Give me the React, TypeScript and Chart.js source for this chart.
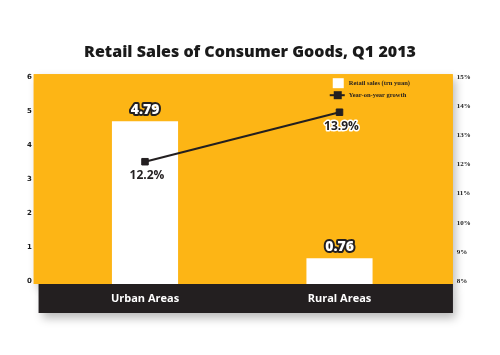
import React, { useEffect, useRef } from "react";
import { Chart, registerables } from "chart.js";

Chart.register(...registerables);

const categories = ["Urban Areas", "Rural Areas"];
const salesValues = [4.79, 0.76];
const growthValues = [12.2, 13.9];
const salesLabels = ["4.79", "0.76"];
const growthLabels = ["12.2%", "13.9%"];
const leftTicks = [0, 1, 2, 3, 4, 5, 6];
const rightTicks = [8, 9, 10, 11, 12, 13, 14, 15];
const title = "Retail Sales of Consumer Goods, Q1 2013";
const seriesNames = ["Retail sales (trn yuan)", "Year-on-year growth"];

const ORANGE = "#FDB515";
const DARK = "#231F20";
const FONT = "'Open Sans', 'DejaVu Sans', sans-serif";

const decorPlugin = {
  id: "decor",
  beforeDraw(chart: any) {
    const { ctx, chartArea } = chart;
    const a = chartArea;
    ctx.save();
    ctx.shadowColor = "rgba(0,0,0,0.28)";
    ctx.shadowBlur = 9;
    ctx.shadowOffsetX = 3;
    ctx.shadowOffsetY = 5;
    ctx.fillStyle = DARK;
    ctx.fillRect(a.left - 9, a.bottom, a.right - a.left + 25, 29);
    ctx.fillStyle = ORANGE;
    ctx.fillRect(a.left - 14, a.top - 6, a.right - a.left + 30, a.bottom - a.top + 6);
    ctx.restore();
    ctx.save();
    ctx.fillStyle = ORANGE;
    ctx.fillRect(a.left - 14, a.top - 6, a.right - a.left + 30, a.bottom - a.top + 6);
    ctx.fillStyle = DARK;
    ctx.fillRect(a.left - 9, a.bottom, a.right - a.left + 25, 29);
    ctx.restore();
  },
  afterDatasetsDraw(chart: any) {
    const { ctx, chartArea } = chart;
    const a = chartArea;
    ctx.save();
    ctx.textAlign = "center";
    ctx.textBaseline = "middle";
    ctx.lineJoin = "round";
    const barMeta = chart.getDatasetMeta(0);
    barMeta.data.forEach((el: any, i: number) => {
      ctx.font = `800 14px ${FONT}`;
      ctx.lineWidth = 4;
      ctx.strokeStyle = DARK;
      ctx.strokeText(salesLabels[i], el.x, el.y - 11);
      ctx.fillStyle = "#ffffff";
      ctx.fillText(salesLabels[i], el.x, el.y - 11);
    });
    const lineMeta = chart.getDatasetMeta(1);
    lineMeta.data.forEach((el: any, i: number) => {
      ctx.font = `bold 12px ${FONT}`;
      ctx.lineWidth = 3;
      ctx.strokeStyle = "#ffffff";
      ctx.strokeText(growthLabels[i], el.x + 2, el.y + 14);
      ctx.fillStyle = DARK;
      ctx.fillText(growthLabels[i], el.x + 2, el.y + 14);
    });
    const lx = a.right - 104;
    const ly = a.top - 2;
    ctx.fillStyle = "#ffffff";
    ctx.fillRect(lx, ly, 11, 10);
    ctx.strokeStyle = DARK;
    ctx.lineWidth = 2;
    ctx.beginPath();
    ctx.moveTo(lx - 3, ly + 17);
    ctx.lineTo(lx + 12, ly + 17);
    ctx.stroke();
    ctx.fillStyle = DARK;
    ctx.fillRect(lx + 1, ly + 13, 8, 8);
    ctx.textAlign = "left";
    ctx.font = `bold 6.5px 'Liberation Serif', serif`;
    ctx.fillText(seriesNames[0], lx + 16, ly + 5);
    ctx.fillText(seriesNames[1], lx + 16, ly + 17);
    ctx.restore();
  },
};

export default function App() {
  const ref = useRef<HTMLCanvasElement>(null);
  useEffect(() => {
    if (!ref.current) return;
    const chart = new Chart(ref.current, {
      type: "bar",
      data: {
        labels: categories,
        datasets: [
          {
            type: "bar",
            label: seriesNames[0],
            data: salesValues,
            backgroundColor: "#ffffff",
            barPercentage: 0.34,
            categoryPercentage: 1,
            yAxisID: "y",
            order: 2,
          },
          {
            type: "line",
            label: seriesNames[1],
            data: growthValues,
            borderColor: DARK,
            backgroundColor: DARK,
            borderWidth: 2,
            pointStyle: "rect",
            pointRadius: 4.6,
            pointBorderWidth: 1,
            yAxisID: "y1",
            order: 1,
          } as any,
        ],
      },
      options: {
        animation: false,
        responsive: true,
        maintainAspectRatio: false,
        layout: { padding: 0 },
        plugins: {
          legend: { display: false },
          tooltip: { enabled: false },
          title: {
            display: true,
            text: title,
            color: "#1a1a1a",
            font: { family: FONT, size: 16, weight: 800 as any },
            padding: { top: 43, bottom: 18 },
          },
        },
        scales: {
          x: {
            grid: { display: false, drawTicks: false },
            border: { display: false },
            ticks: {
              color: "#ffffff",
              font: { family: FONT, size: 11, weight: "bold" },
              padding: 8,
            },
            afterFit: (s: any) => {
              s.height = 71;
            },
          },
          y: {
            position: "left",
            min: 0,
            max: 6,
            grid: { display: false, drawTicks: false },
            border: { display: false },
            ticks: {
              stepSize: 1,
              color: "#1a1a1a",
              padding: 16,
              labelOffset: -3,
              font: { family: "'DejaVu Sans', sans-serif", size: 7, weight: "bold" },
              callback: (v: any) => (leftTicks.includes(Number(v)) ? String(v) : ""),
            },
            afterFit: (s: any) => {
              s.width = 47.75;
            },
          },
          y1: {
            position: "right",
            min: 8,
            max: 15,
            grid: { display: false, drawTicks: false },
            border: { display: false },
            ticks: {
              stepSize: 1,
              color: "#1a1a1a",
              padding: 20,
              labelOffset: -3,
              font: { family: "'Liberation Serif', serif", size: 7, weight: "bold" },
              callback: (v: any) => (rightTicks.includes(Number(v)) ? v + "%" : ""),
            },
            afterFit: (s: any) => {
              s.width = 63.25;
            },
          },
        },
      },
      plugins: [decorPlugin],
    });
    return () => chart.destroy();
  }, []);
  return (
    <div style={{ position: "fixed", left: 0, top: 0, width: 500, height: 355, background: "#ffffff" }}>
      <canvas ref={ref} />
    </div>
  );
}
